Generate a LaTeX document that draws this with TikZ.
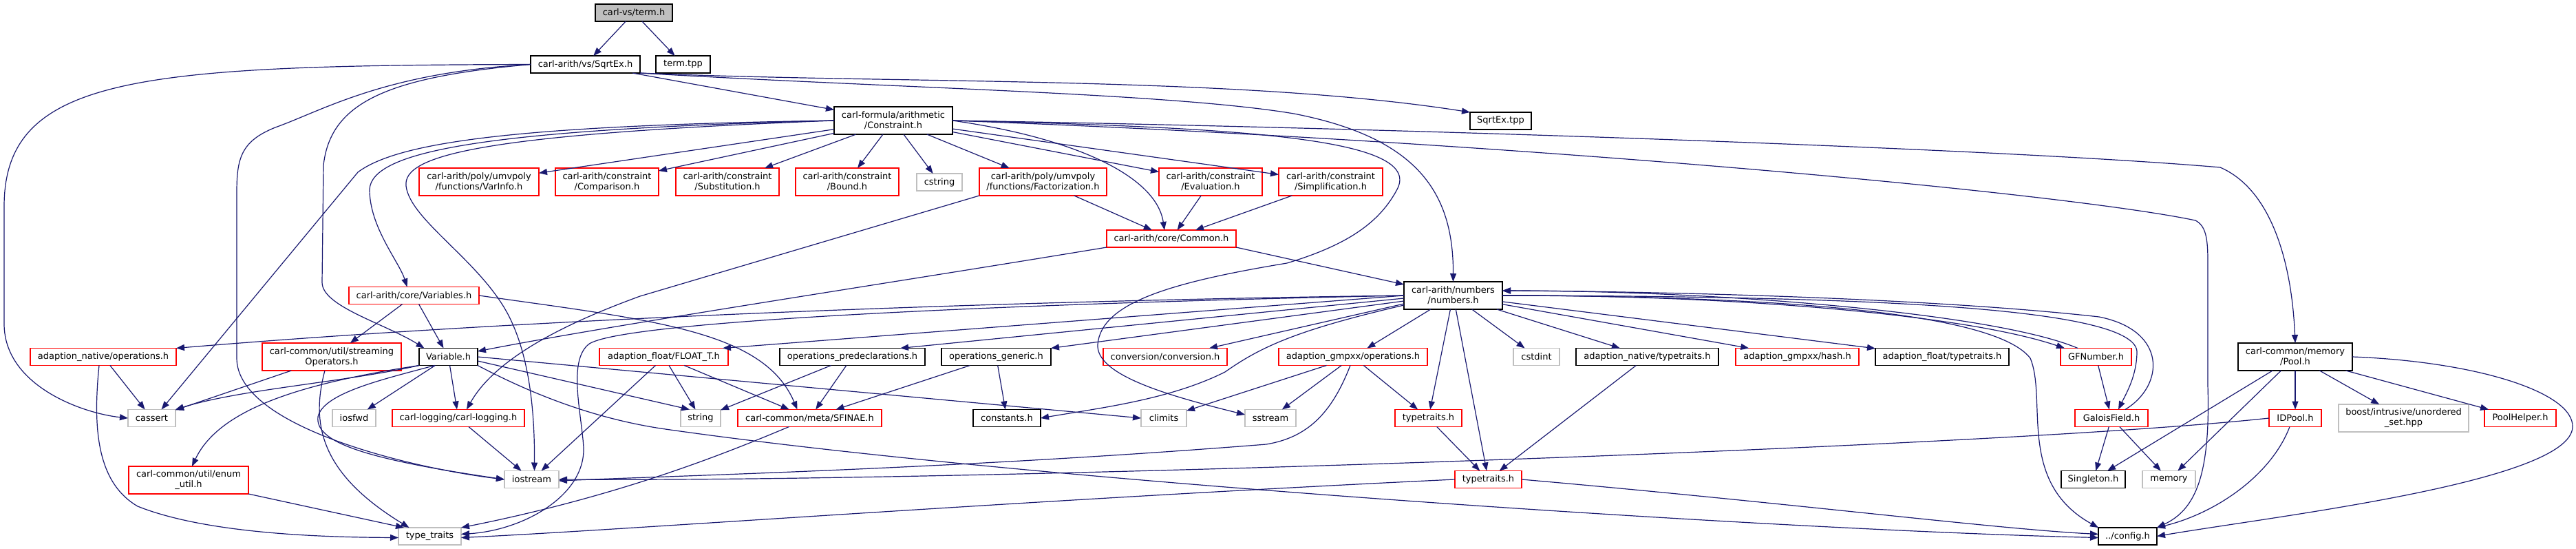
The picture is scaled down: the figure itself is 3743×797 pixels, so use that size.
\documentclass[tikz,border=0pt]{standalone}
\usepackage{fontspec}
\setmainfont{DejaVu Sans}
\usetikzlibrary{arrows.meta}
\definecolor{edgec}{HTML}{191970}
\definecolor{grayb}{HTML}{BFBFBF}
\definecolor{redb}{HTML}{FF0000}
\begin{document}
\begin{tikzpicture}[x=1pt,y=-1pt,
  nd/.style={rectangle, draw, inner sep=0pt, outer sep=0pt, align=center, font=\fontsize{13}{15}\selectfont, line width=1.3pt},
  bn/.style={nd, draw=black},
  rn/.style={nd, draw=redb},
  gn/.style={nd, draw=grayb},
  sz/.style 2 args={minimum width=#1pt, minimum height=#2pt},
  e/.style={draw=edgec, line width=1.2pt, -{Triangle[length=12pt,width=9pt]}},
]
\useasboundingbox[fill=white] (0,0) rectangle (3743,797);

% nodes
\node[bn, fill=grayb, sz={112}{25}] (termh) at (921,18.5) {carl-vs/term.h};
\node[bn, sz={159}{25}] (sqrtexh) at (850.5,93.5) {carl-arith/vs/SqrtEx.h};
\node[bn, sz={79}{25}] (termtpp) at (992.5,93.5) {term.tpp};
\node[bn, sz={172}{40}] (constraint) at (1298,175) {carl-formula/arithmetic\\/Constraint.h};
\node[bn, sz={89}{25}] (sqrtextpp) at (2180.5,175.5) {SqrtEx.tpp};
\node[rn, sz={174}{40}] (varinfo) at (696,264) {carl-arith/poly/umvpoly\\/functions/VarInfo.h};
\node[rn, sz={150}{40}] (comparison) at (882,264) {carl-arith/constraint\\/Comparison.h};
\node[rn, sz={150}{40}] (substitution) at (1057,264) {carl-arith/constraint\\/Substitution.h};
\node[rn, sz={150}{40}] (bound) at (1231,264) {carl-arith/constraint\\/Bound.h};
\node[gn, sz={66}{25}] (cstring) at (1365,264.5) {cstring};
\node[rn, sz={185}{40}] (factorization) at (1515.5,264) {carl-arith/poly/umvpoly\\/functions/Factorization.h};
\node[rn, sz={150}{40}] (evaluation) at (1759,264) {carl-arith/constraint\\/Evaluation.h};
\node[rn, sz={151}{40}] (simplification) at (1933.5,264) {carl-arith/constraint\\/Simplification.h};
\node[rn, sz={188}{25}] (common) at (1702,346.5) {carl-arith/core/Common.h};
\node[rn, sz={189}{25}] (variables) at (601.5,429) {carl-arith/core/Variables.h};
\node[bn, sz={143}{40}] (numbers) at (2111.5,429) {carl-arith/numbers\\/numbers.h};
\node[bn, sz={166}{40}] (poolh) at (3335,518) {carl-common/memory\\/Pool.h};
\node[rn, sz={212}{25}] (natops) at (150,518) {adaption\_native/operations.h};
\node[rn, sz={202}{40}] (streamops) at (482,518) {carl-common/util/streaming\\Operators.h};
\node[bn, sz={85}{25}] (variable) at (651.5,518) {Variable.h};
\node[rn, sz={187}{25}] (floatT) at (964.5,518) {adaption\_float/FLOAT\_T.h};
\node[bn, sz={211}{25}] (oppredecl) at (1238.5,518) {operations\_predeclarations.h};
\node[bn, sz={159}{25}] (opgeneric) at (1447.5,518) {operations\_generic.h};
\node[rn, sz={180}{25}] (conversion) at (1693,518) {conversion/conversion.h};
\node[rn, sz={216}{25}] (gmpxxops) at (1966,518) {adaption\_gmpxx/operations.h};
\node[gn, sz={67}{25}] (cstdint) at (2232.5,518) {cstdint};
\node[bn, sz={207}{25}] (nattt) at (2393.5,518) {adaption\_native/typetraits.h};
\node[rn, sz={179}{25}] (gmpxxhash) at (2611.5,518) {adaption\_gmpxx/hash.h};
\node[bn, sz={194}{25}] (floattt) at (2822,518) {adaption\_float/typetraits.h};
\node[rn, sz={103}{25}] (gfnumber) at (3045.5,518) {GFNumber.h};
\node[gn, sz={69}{25}] (cassert) at (220.5,607) {cassert};
\node[gn, sz={63}{25}] (iosfwd) at (514.5,607) {iosfwd};
\node[rn, sz={192}{25}] (logging) at (666,607) {carl-logging/carl-logging.h};
\node[gn, sz={58}{25}] (string) at (1018,607) {string};
\node[rn, sz={209}{25}] (sfinae) at (1176.5,607) {carl-common/meta/SFINAE.h};
\node[bn, sz={98}{25}] (constants) at (1463,607) {constants.h};
\node[gn, sz={66}{25}] (climits) at (1691,607) {climits};
\node[gn, sz={74}{25}] (sstream) at (1846,607) {sstream};
\node[rn, sz={97}{25}] (ttA) at (2075.5,607) {typetraits.h};
\node[rn, sz={106}{25}] (galois) at (3068,607) {GaloisField.h};
\node[rn, sz={76}{25}] (idpool) at (3335,607) {IDPool.h};
\node[gn, sz={189}{40}] (boost) at (3492.5,607) {boost/intrusive/unordered\\\_set.hpp};
\node[rn, sz={104}{25}] (poolhelper) at (3662,607) {PoolHelper.h};
\node[rn, sz={174}{40}] (enumutil) at (274,697) {carl-common/util/enum\\\_util.h};
\node[gn, sz={79}{25}] (iostream) at (772.5,696) {iostream};
\node[rn, sz={97}{25}] (ttB) at (2162.5,696) {typetraits.h};
\node[bn, sz={93}{25}] (singleton) at (3041.5,696) {Singleton.h};
\node[gn, sz={77}{25}] (memory) at (3151.5,696) {memory};
\node[gn, sz={91}{25}] (stdtt) at (624.5,778.5) {type\_traits};
\node[bn, sz={85}{25}] (config) at (3091.5,778.5) {../config.h};

% edges from term.h / SqrtEx.h
\draw[e] (termh) -- (sqrtexh);
\draw[e] (termh) -- (termtpp);
\draw[e] (sqrtexh) -- (constraint);
\draw[e] (sqrtexh.south east) .. controls (1300,122) and (1800,110) .. (sqrtextpp.north west);
\draw[e] (sqrtexh.south east) .. controls (1300,128) and (1700,135) .. (1880,165) .. controls (2060,200) and (2112,280) .. (numbers.north);
\draw[e] (sqrtexh.west) .. controls (200,95) and (6,110) .. (6,300) -- (6,470) .. controls (6,560) and (120,600) .. (cassert.west);
\draw[e] (sqrtexh.west) .. controls (560,105) and (470,160) .. (400,185) .. controls (350,205) and (344,230) .. (344,280) -- (344,520) .. controls (344,620) and (600,680) .. (iostream.west);
\draw[e] (sqrtexh.west) .. controls (560,112) and (480,150) .. (470,240) -- (468,410) .. controls (468,445) and (560,470) .. ([xshift=-35pt]variable.north);

% Constraint.h
\draw[e] (constraint) -- (varinfo);
\draw[e] (constraint) -- (comparison);
\draw[e] (constraint) -- (substitution);
\draw[e] (constraint) -- (bound);
\draw[e] (constraint) -- (cstring);
\draw[e] (constraint) -- (factorization);
\draw[e] (constraint) -- (evaluation);
\draw[e] (constraint) -- (simplification);
\draw[e] (constraint.east) .. controls (1560,200) and (1680,255) .. ([xshift=-10pt]common.north);
\draw[e] (constraint.west) .. controls (760,182) and (580,205) .. (520,250) -- ([xshift=14pt]cassert.north);
\draw[e] (constraint.west) .. controls (700,188) and (540,220) .. (537,275) .. controls (537,330) and (580,380) .. ([xshift=-10pt]variables.north);
\draw[e] (constraint.west) .. controls (700,195) and (585,225) .. (590,270) .. controls (596,320) and (700,380) .. (740,460) .. controls (770,520) and (777,600) .. ([xshift=4pt]iostream.north);
\draw[e] (constraint.east) .. controls (1800,185) and (2070,200) .. (2030,275) .. controls (2005,322) and (1960,355) .. (1870,382) .. controls (1700,410) and (1600,440) .. (1595,500) .. controls (1592,545) and (1700,575) .. ([yshift=5pt]sstream.west);
\draw[e] (constraint.east) .. controls (2000,185) and (2900,215) .. (3226,243) .. controls (3300,275) and (3330,380) .. (poolh.north);
\draw[e] (constraint.east) .. controls (2200,205) and (3000,280) .. (3190,320) .. controls (3205,328) and (3208,345) .. (3208,380) -- (3208,560) .. controls (3212,690) and (3190,740) .. (config.north east);

% second row
\draw[e] (factorization.south west) -- (930,430) .. controls (820,470) and (720,520) .. ([xshift=12pt]logging.north);
\draw[e] (factorization) -- (common);
\draw[e] (evaluation) -- (common);
\draw[e] (simplification) -- (common);
\draw[e] (common.south west) .. controls (1300,410) and (900,470) .. ([yshift=8pt]variable.east);
\draw[e] (common.south east) -- ([yshift=16pt]numbers.west);

% Variables.h
\draw[e] (variables) -- (streamops);
\draw[e] (variables) -- (variable);
\draw[e] (variables.east) .. controls (950,465) and (1110,480) .. ([xshift=-18pt]sfinae.north);

% streamingOperators
\draw[e] (streamops) -- (cassert);
\draw[e] ([xshift=-10pt]streamops.south) .. controls (450,620) and (470,690) .. ([xshift=-30pt]stdtt.north);

% Variable.h
\draw[e] (variable.south west) .. controls (500,555) and (350,565) .. (cassert.north east);
\draw[e] (variable.south west) .. controls (450,555) and (320,590) .. ([xshift=5pt]enumutil.north);
\draw[e] ([xshift=-20pt]variable.south) .. controls (560,550) and (470,570) .. (462,605) .. controls (458,640) and (520,665) .. (iostream.west);
\draw[e] (variable) -- (iosfwd);
\draw[e] (variable) -- (logging);
\draw[e] (variable.east) -- (climits.west);
\draw[e] ([yshift=-6pt]variable.east) -- ([xshift=-16pt]string.north);
\draw[e] (variable.south east) .. controls (760,565) and (850,605) .. (960,622) .. controls (1500,700) and (2600,770) .. ([yshift=-2pt]config.west);

% FLOAT_T, operations
\draw[e] ([xshift=-12pt]floatT.south) -- ([xshift=14pt]iostream.north);
\draw[e] (floatT) -- (string);
\draw[e] (floatT) -- (sfinae);
\draw[e] (oppredecl) -- (string);
\draw[e] (oppredecl) -- (sfinae);
\draw[e] (opgeneric) -- (sfinae);
\draw[e] (opgeneric) -- (constants);

% numbers.h
\draw[e] (numbers.west) .. controls (1500,436) and (800,460) .. (natops.north east);
\draw[e] (numbers.west) .. controls (1500,440) and (900,465) .. (855,500) .. controls (825,525) and (845,600) .. (848,650) .. controls (850,720) and (760,770) .. ([yshift=3pt]stdtt.east);
\draw[e] (numbers.west) -- ([xshift=-8pt]floatT.north east);
\draw[e] ([yshift=-4pt]numbers.west) -- ([xshift=-36pt]oppredecl.north east);
\draw[e] ([yshift=-8pt]numbers.west) -- (opgeneric.north east);
\draw[e] ([yshift=-12pt]numbers.west) -- ([xshift=-26pt]conversion.north east);
\draw[e] ([yshift=-14pt]numbers.west) .. controls (1880,480) and (1830,505) .. (1780,540) .. controls (1700,580) and (1600,592) .. (constants.east);
\draw[e] (numbers) -- (gmpxxops);
\draw[e] (numbers) -- (cstdint);
\draw[e] (numbers) -- (nattt);
\draw[e] (numbers) -- (gmpxxhash);
\draw[e] (numbers) -- (floattt);
\draw[e] (numbers) -- (ttA);
\draw[e] (numbers) -- (ttB);
\draw[e] (numbers.east) .. controls (2500,428) and (2850,455) .. ([xshift=6pt]gfnumber.north west);
\draw[e] ([xshift=25pt]gfnumber.north west) .. controls (2900,455) and (2500,422) .. ([yshift=7pt]numbers.east);
\draw[e] (numbers.east) .. controls (2700,430) and (3100,445) .. (3105,510) .. controls (3105,545) and (3090,570) .. ([xshift=10pt]galois.north);
\draw[e] ([xshift=20pt]galois.north) .. controls (3145,560) and (3150,480) .. (3050,460) .. controls (2800,432) and (2400,423) .. ([yshift=7pt]numbers.east);
\draw[e] (numbers.east) .. controls (2600,430) and (2900,455) .. (2950,520) .. controls (2975,580) and (2930,700) .. (config.north west);

% right part
\draw[e] (gfnumber) -- (galois);
\draw[e] (galois) -- (singleton);
\draw[e] (galois) -- (memory);
\draw[e] (poolh) -- (singleton);
\draw[e] (poolh) -- (memory);
\draw[e] (poolh) -- (idpool);
\draw[e] (poolh) -- (boost);
\draw[e] (poolh) -- (poolhelper);
\draw[e] (poolh.east) .. controls (3600,525) and (3740,570) .. (3738,620) .. controls (3735,700) and (3300,750) .. (config.east);
\draw[e] ([xshift=-8pt]idpool.south) .. controls (3300,690) and (3220,745) .. (config.north east);
\draw[e] (idpool.west) .. controls (2900,650) and (1400,700) .. (iostream.east);

% gmpxx operations, typetraits
\draw[e] ([xshift=-4pt]gmpxxops.south) .. controls (1935,600) and (1900,635) .. (1840,645) .. controls (1400,680) and (1000,690) .. ([yshift=-2pt]iostream.east);
\draw[e] (gmpxxops) -- (climits);
\draw[e] (gmpxxops) -- (sstream);
\draw[e] (gmpxxops) -- (ttA);
\draw[e] (nattt) -- (ttB);
\draw[e] (ttA) -- (ttB);
\draw[e] (ttB.west) .. controls (1500,725) and (900,770) .. ([yshift=-2pt]stdtt.east);
\draw[e] (ttB.east) .. controls (2600,730) and (2900,768) .. ([yshift=3pt]config.west);

% lower left
\draw[e] ([xshift=-30pt]sfinae.south) .. controls (1050,660) and (900,720) .. (stdtt.north east);
\draw[e] (enumutil.south east) -- ([xshift=8pt]stdtt.north west);
\draw[e] (natops) -- (cassert);
\draw[e] ([xshift=-6pt]natops.south) .. controls (135,620) and (140,700) .. (200,735) .. controls (300,775) and (470,780) .. ([yshift=-2pt]stdtt.west);
\draw[e] (logging) -- (iostream);
\end{tikzpicture}
\end{document}
